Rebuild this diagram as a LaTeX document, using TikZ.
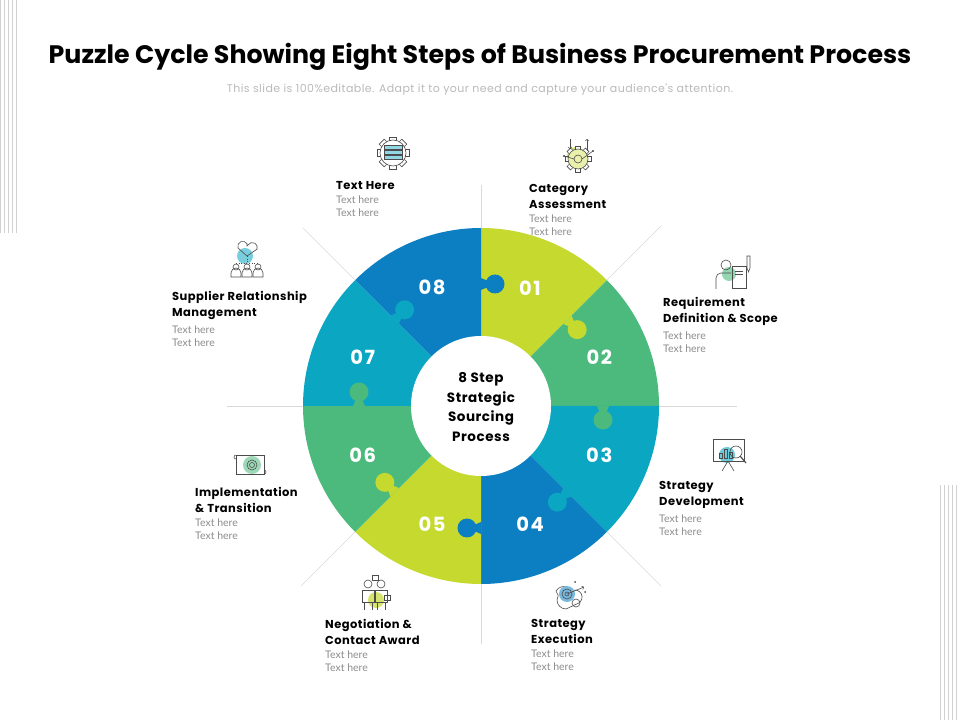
\documentclass[tikz,border=0pt]{standalone}
\usepackage{fontspec}
\setmainfont{Lato}
\newfontfamily\headfont{Poppins}
\newfontfamily\wideheadfont{Poppins}[LetterSpace=4]
\newfontfamily\widenumfont{Poppins}[LetterSpace=8]
\usepackage{tikz}
\usetikzlibrary{positioning,calc}

\definecolor{plime}{HTML}{C5D92F}
\definecolor{pgreen}{HTML}{4CBA7D}
\definecolor{pteal}{HTML}{0BA6C1}
\definecolor{pblue}{HTML}{0B7FC2}
\definecolor{txtgray}{HTML}{8C8C8C}

\tikzset{
  steptitle/.style={anchor=north west, inner sep=0pt, align=left,
    font=\wideheadfont\bfseries\fontsize{11.5}{16}\selectfont},
  stepnote/.style={inner sep=0pt, align=left, text=txtgray,
    font=\fontsize{10.5}{13}\selectfont},
  stepnum/.style={text=white, font=\widenumfont\bfseries\fontsize{19.5}{20}\selectfont},
  icon/.style={draw=black!70, line width=0.6pt},
}

\begin{document}
\begin{tikzpicture}[x=1pt,y=1pt]
\useasboundingbox (0,0) rectangle (960,720);

% side stripes
\foreach \i in {0,...,4} {
\draw[gray!35, line width=0.8pt] (0.7+4*\i,720) -- (0.7+4*\i,487);
\draw[gray!35, line width=0.8pt] (940.7+4*\i,235) -- (940.7+4*\i,0);
}

% heading
\node[font=\headfont\bfseries\fontsize{25.3}{30}\selectfont] (title) at (480,663)
  {Puzzle Cycle Showing Eight Steps of Business Procurement Process};
\node[text=gray!55, font=\wideheadfont\fontsize{11}{12}\selectfont] (subtitle) at (480,630)
  {This slide is 100\%editable. Adapt it to your need and capture your audience's attention.};

% wheel
\begin{scope}[shift={(481,314)}]
\foreach \b/\r in {90/221,45/255,0/256,-45/255,-90/238,-135/255,180/254,135/252}
  \draw[gray!30, line width=0.6pt] (\b:178) -- (\b:\r);

\foreach \k/\c in {1/plime,2/pgreen,3/pteal,4/pblue,5/plime,6/pgreen,7/pteal,8/pblue} {
  \pgfmathsetmacro\a{135-45*\k}
  \fill[\c] (0,0) -- (\a:178) arc[start angle=\a, end angle=\a-45, radius=178] -- cycle;
}
% puzzle tabs
\foreach \k/\c in {1/plime,2/pgreen,3/pteal,4/pblue,5/plime,6/pgreen,7/pteal,8/pblue} {
  \pgfmathsetmacro\b{90-45*\k}
  \fill[\c] ($(\b:122)+(\b-90:14)$) circle (9.5);
  \fill[\c] (\b:116) -- (\b:128) -- ($(\b:125)+(\b-90:7)$) -- ($(\b:119)+(\b-90:7)$) -- cycle;
}
\fill[white] (0,0) circle (70);
\node[align=center, font=\wideheadfont\bfseries\fontsize{13.5}{19.5}\selectfont] (core) at (0,-1)
  {8 Step\\Strategic\\Sourcing\\Process};

\foreach \k in {1,...,8} {
  \pgfmathsetmacro\m{112.5-45*\k}
  \node[stepnum] (num\k) at (\m:128) {0\k};
}
\end{scope}

% step labels
\node[steptitle] (t1) at (336,539) {Text Here};
\node[stepnote, below=6pt of t1.south west, anchor=north west] (n1) {Text here\\Text here};
\node[steptitle] (t2) at (529,536) {Category\\Assessment};
\node[stepnote, below=6pt of t2.south west, anchor=north west] (n2) {Text here\\Text here};
\node[steptitle] (t3) at (663,423) {Requirement\\Definition \& Scope};
\node[stepnote, below=6pt of t3.south west, anchor=north west] (n3) {Text here\\Text here};
\node[steptitle] (t4) at (659,239) {Strategy\\Development};
\node[stepnote, below=6pt of t4.south west, anchor=north west] (n4) {Text here\\Text here};
\node[steptitle] (t5) at (531,101) {Strategy\\Execution};
\node[stepnote, below=6pt of t5.south west, anchor=north west] (n5) {Text here\\Text here};
\node[steptitle] (t6) at (325,101) {Negotiation \&\\Contact Award};
\node[stepnote, below=6pt of t6.south west, anchor=north west] (n6) {Text here\\Text here};
\node[steptitle] (t7) at (195,233) {Implementation\\\& Transition};
\node[stepnote, below=6pt of t7.south west, anchor=north west] (n7) {Text here\\Text here};
\node[steptitle] (t8) at (172,429) {Supplier Relationship\\Management};
\node[stepnote, below=6pt of t8.south west, anchor=north west] (n8) {Text here\\Text here};

% icons
\begin{scope}[shift={(393,567)}]
\foreach \t in {0,45,...,315}
  \draw[icon, fill=white, rotate=\t] (-3.5,11) rectangle (3.5,16);
\draw[icon, fill=white] (0,0) circle (13);
\foreach \y in {4,-1,-6}
  \draw[icon, fill=pteal!45] (-9,\y) rectangle (9,\y+4);
\end{scope}

\begin{scope}[shift={(578,565)}]
\fill[plime!70] (-2,-1) circle (9);
\foreach \t in {0,45,...,315}
  \draw[icon, fill=white, shift={(0,-4)}, rotate=\t] (-2.5,9) rectangle (2.5,13);
\draw[icon, fill=plime!40] (0,-4) circle (10);
\draw[icon] (0,-4) circle (4);
\draw[icon, ->] (-8,16) -- (-8,6);
\draw[icon, ->] (9,4) -- (9,16);
\draw[icon] (-4,-4) -- (-14,-1) (4,-4) -- (15,4);
\fill[black!70] (-14,-1) circle (1.2) (15,4) circle (1.2);
\end{scope}

\begin{scope}[shift={(733,448)}]
\fill[pgreen!60] (-4,-2) circle (7);
\draw[icon] (-7,7) circle (5);
\draw[icon] (-17,-17) -- (-17,-6) arc[start angle=180, end angle=90, radius=5] -- (-2,-1);
\draw[icon] (-1,-16) rectangle (13,6);
\draw[icon] (2,-2) -- (10,-2) (2,1) -- (10,1);
\draw[icon] (14,4) -- (14,16) -- (17,16) -- (17,4) -- (15.5,0) -- cycle;
\end{scope}

\begin{scope}[shift={(730,267)}]
\fill[pteal!60] (-3,-2) circle (8);
\draw[icon] (-17,-8) rectangle (14,14);
\draw[icon] (-2,-8) -- (-8,-18) (-2,-8) -- (4,-18);
\foreach \x/\h in {-11/5,-6/9,-1/6}
  \draw[icon] (\x,-5) rectangle (\x+3,-5+\h);
\draw[icon] (6,1) circle (6);
\draw[icon, line width=1.2pt] (10,-3) -- (16,-10);
\end{scope}

\begin{scope}[shift={(570,125)}]
\draw[icon] (-14,4) arc[start angle=150, end angle=30, radius=9] arc[start angle=120, end angle=-60, radius=7]
  -- (-4,-14) arc[start angle=-90, end angle=-210, radius=9] -- cycle;
\fill[pblue!55] (-3,1) circle (8);
\draw[icon] (-3,1) circle (5) (-3,1) circle (2);
\draw[icon, ->] (-3,1) -- (14,8);
\draw[icon] (6,-8) circle (4);
\fill[black!70] (5,13) circle (1) (15,3) circle (1);
\end{scope}

\begin{scope}[shift={(375,126)}]
\fill[plime!70] (1,-6) circle (8);
\draw[icon] (-7,10) circle (4) (6,10) circle (4);
\draw[icon] (-13,4) rectangle (-1,-8) (-11,-8) -- (-11,-16) (-3,-8) -- (-3,-16);
\draw[icon] (0,4) rectangle (12,-8) (2,-8) -- (2,-16) (10,-8) -- (10,-16);
\draw[icon] (-3,14) rectangle (3,19);
\draw[icon] (9,-6) rectangle (15,-1);
\end{scope}

\begin{scope}[shift={(250,255)}]
\fill[pgreen!55] (2,0) circle (9);
\draw[icon] (-14,-9) rectangle (14,10);
\draw[icon] (-14,10) arc[start angle=90, end angle=270, radius=2] (14,-9) arc[start angle=-90, end angle=90, radius=2];
\draw[icon] (2,0) circle (5) (2,0) circle (2.5);
\end{scope}

\begin{scope}[shift={(247,458)}]
\fill[pteal!55] (-2,6) circle (8);
\draw[icon] (0,6) -- (-9,14) arc[start angle=200, end angle=30, radius=5] -- (0,16)
  -- (1,17) arc[start angle=150, end angle=-20, radius=5] -- cycle;
\draw[icon, dotted] (-11,-1) -- (11,-1) (0,6) -- (0,-1);
\foreach \x in {-11,0,11} {
  \draw[icon] (\x,-5) circle (3);
  \draw[icon] (\x-5,-15) -- (\x-5,-11) arc[start angle=180, end angle=0, radius=5] -- (\x+5,-15) -- cycle;
}
\end{scope}

\end{tikzpicture}
\end{document}
